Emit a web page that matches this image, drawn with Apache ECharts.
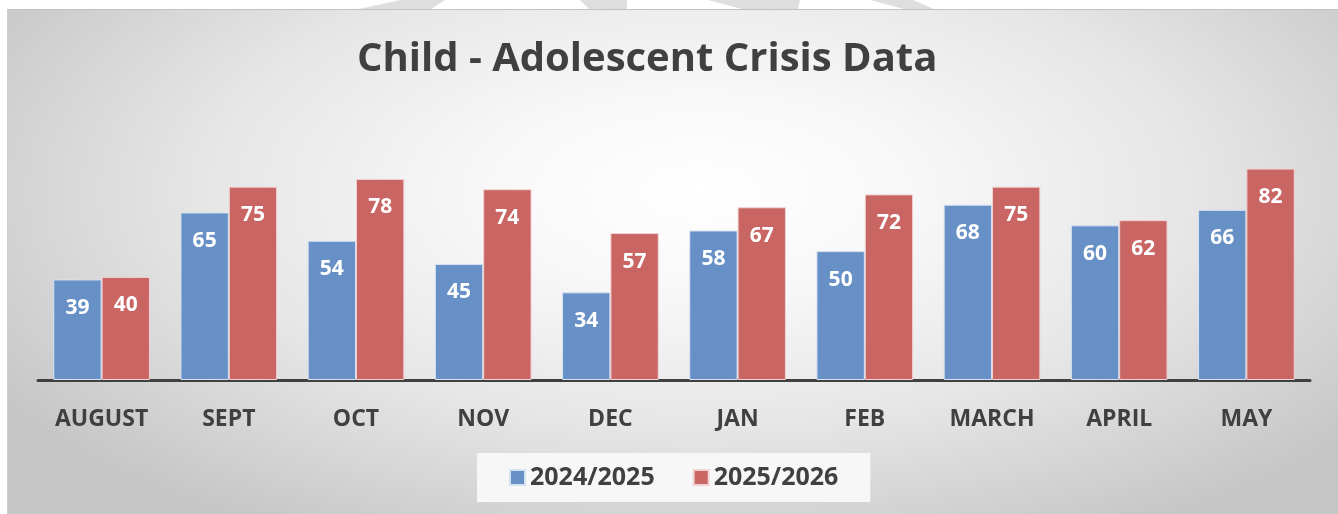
<!DOCTYPE html>
<html>
<head>
<meta charset="utf-8">
<script src="https://cdn.jsdelivr.net/npm/echarts@6/dist/echarts.min.js"></script>
<style>
  html, body { margin: 0; padding: 0; background: #fff; }
  #wrap { position: relative; width: 1338px; height: 514px; overflow: hidden; }
  #bg {
    position: absolute; left: 7px; top: 9px; width: 1331px; height: 505px;
    border-top: 1px solid #c2c2c2; border-left: 1px solid #d0d0d0;
    background: radial-gradient(ellipse 62% 78% at 52% 36%, #ffffff 0%, #f8f8f8 25%, #e6e6e6 60%, #c6c6c6 100%);
  }
  #chart { position: absolute; left: 0; top: 0; width: 1338px; height: 514px; }
</style>
</head>
<body>
<div id="wrap">
  <div id="bg"></div>
  <div id="chart"></div>
</div>
<script>
var months = ['AUGUST', 'SEPT', 'OCT', 'NOV', 'DEC', 'JAN', 'FEB', 'MARCH', 'APRIL', 'MAY'];
var season1 = [39, 65, 54, 45, 34, 58, 50, 68, 60, 66];
var season2 = [40, 75, 78, 74, 57, 67, 72, 75, 62, 82];
var seriesNames = ['2024/2025', '2025/2026'];

var chart = echarts.init(document.getElementById('chart'));

var fontName = 'Open Sans';
var labelStyle = {
  show: true,
  position: 'insideTop',
  distance: 18,
  color: '#fff',
  fontWeight: 'bold',
  fontSize: 21,
  fontFamily: fontName
};

// faint watermark pieces above the chart area
var marks = [
  [[401, 0], [445, 0], [431, 9], [359, 9]],
  [[580, 0], [627, 0], [627, 9], [589, 9]],
  [[708, 0], [800, 0], [798, 9], [742, 9]],
  [[870, 0], [913, 0], [934, 9], [904, 9]]
];

var option = {
  animation: false,
  graphic: marks.map(function (p) {
    return { type: 'polygon', z: -5, shape: { points: p }, style: { fill: '#dedede' } };
  }),
  title: {
    text: 'Child - Adolescent Crisis Data',
    left: 352,
    top: 35,
    textStyle: {
      color: '#404040',
      fontWeight: 'bold',
      fontSize: 40,
      fontFamily: fontName
    }
  },
  legend: {
    data: seriesNames,
    bottom: 12,
    left: 477,
    icon: 'rect',
    itemWidth: 15,
    itemHeight: 15,
    itemGap: 38,
    padding: [12, 32],
    backgroundColor: '#f7f7f7',
    textStyle: {
      color: '#404040',
      fontWeight: 'bold',
      fontSize: 25,
      fontFamily: fontName
    }
  },
  grid: {
    left: 38,
    right: 28,
    top: 148,
    bottom: 134
  },
  xAxis: {
    type: 'category',
    data: months,
    axisLine: { lineStyle: { color: '#404040', width: 3 } },
    axisTick: { show: false },
    axisLabel: {
      color: '#404040',
      fontWeight: 'bold',
      fontSize: 23,
      fontFamily: fontName,
      margin: 28
    }
  },
  yAxis: {
    type: 'value',
    min: 0,
    max: 90,
    show: false,
    splitLine: { show: false }
  },
  series: [
    {
      name: seriesNames[0],
      type: 'bar',
      data: season1,
      barGap: '0%',
      barCategoryGap: '24%',
      itemStyle: { color: '#6791c6', borderColor: '#d6e2f1', borderWidth: 1 },
      label: labelStyle
    },
    {
      name: seriesNames[1],
      type: 'bar',
      data: season2,
      itemStyle: { color: '#c96563', borderColor: '#f0d2d2', borderWidth: 1 },
      label: labelStyle
    }
  ]
};

chart.setOption(option);
</script>
</body>
</html>
